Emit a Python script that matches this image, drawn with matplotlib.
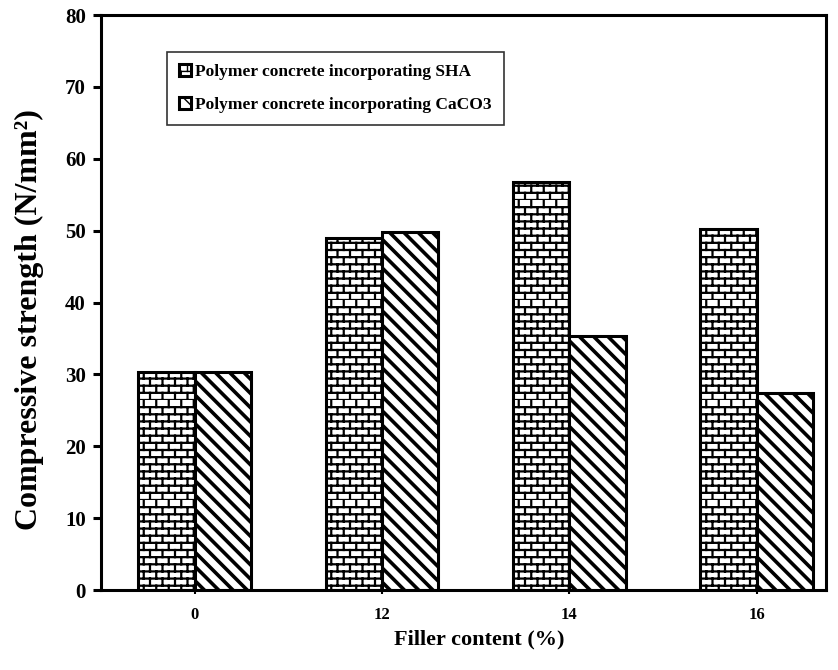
import warnings
import numpy as np
import matplotlib
matplotlib.use("Agg")
import matplotlib.pyplot as plt
import matplotlib.hatch as mhatch
from matplotlib.path import Path

warnings.filterwarnings("ignore")

# ---------------- data ----------------
categories = ["0", "12", "14", "16"]
sha_values = [30.4, 49.0, 56.7, 50.2]
caco3_values = [30.4, 49.8, 35.3, 27.4]
series_labels = ["Polymer concrete incorporating SHA",
                 "Polymer concrete incorporating CaCO3"]
y_ticks = [0, 10, 20, 30, 40, 50, 60, 70, 80]


# ------------- custom hatches -------------
class BrickHatch(mhatch.HatchPatternBase):
    """Brick texture, triggered by the 'b' hatch character."""
    def __init__(self, hatch, density):
        n = hatch.count('b')
        self.rows = 14 * n
        self.cols = 8 * n
        self.num_vertices = (2 * self.rows + 2 * self.rows * self.cols) if n else 0

    def set_vertices_and_codes(self, vertices, codes):
        R, C = self.rows, self.cols
        i = 0
        for r in range(R):
            y = r / R
            vertices[i] = (0.0, y); codes[i] = Path.MOVETO; i += 1
            vertices[i] = (1.0, y); codes[i] = Path.LINETO; i += 1
        for r in range(R):
            off = 0.5 if r % 2 else 0.0
            for k in range(C):
                xx = (k + off) / C
                vertices[i] = (xx, r / R); codes[i] = Path.MOVETO; i += 1
                vertices[i] = (xx, (r + 1) / R); codes[i] = Path.LINETO; i += 1


class DiagHatch(mhatch.HatchPatternBase):
    """Back-slash diagonal lines, triggered by 'd'."""
    def __init__(self, hatch, density):
        n = hatch.count('d')
        self.num_lines = 14 * n
        self.num_vertices = (self.num_lines + 1) * 2 if n else 0

    def set_vertices_and_codes(self, vertices, codes):
        steps = np.linspace(-0.5, 0.5, self.num_lines + 1)
        vertices[0::2, 0] = 0.0 + steps
        vertices[0::2, 1] = 1.0 + steps
        vertices[1::2, 0] = 1.0 + steps
        vertices[1::2, 1] = 0.0 + steps
        codes[0::2] = Path.MOVETO
        codes[1::2] = Path.LINETO


mhatch._hatch_types.append(BrickHatch)
mhatch._hatch_types.append(DiagHatch)

# ---------------- figure ----------------
plt.rcParams['font.family'] = ['Liberation Serif', 'DejaVu Serif']
plt.rcParams['font.weight'] = 'bold'

fig = plt.figure(figsize=(8.38, 6.70), dpi=100)
ax = fig.add_axes([0.1205, 0.1194, 0.8652, 0.8582])

x = np.arange(len(categories))
w = 0.3

with plt.rc_context({'hatch.linewidth': 1.6}):
    b1 = ax.bar(x - w / 2, sha_values, w, facecolor='white', edgecolor='black',
                linewidth=2.2, hatch='b', label=series_labels[0])
with plt.rc_context({'hatch.linewidth': 2.6}):
    b2 = ax.bar(x + w / 2, caco3_values, w, facecolor='white', edgecolor='black',
                linewidth=2.2, hatch='d', label=series_labels[1])

ax.set_xlim(-0.5, 3.37)
ax.set_ylim(0, 80)
ax.set_yticks(y_ticks)
ax.set_xticks(x)
ax.set_xticklabels(categories)

for s in ax.spines.values():
    s.set_linewidth(2.2)

ax.tick_params(axis='y', direction='out', length=6, width=2.2, labelsize=15, pad=5)
ax.tick_params(axis='x', direction='out', length=3, width=1.5, labelsize=12, pad=9)
for lab in ax.get_xticklabels() + ax.get_yticklabels():
    lab.set_fontweight('bold')

ax.set_xlabel("Filler content (%)", fontsize=16, fontweight='bold')
ax.xaxis.set_label_coords(0.522, -0.068)
ax.set_ylabel("Compressive strength (N/mm²)", fontsize=23, fontweight='bold')
ax.yaxis.set_label_coords(-0.078, 0.47)

leg = ax.legend(loc='upper left', bbox_to_anchor=(0.091, 0.936), borderaxespad=0,
                frameon=True, fancybox=False, edgecolor='black',
                prop={'family': 'Liberation Serif', 'weight': 'bold', 'size': 12.5},
                handlelength=0.7, handleheight=0.7, handletextpad=0.2,
                labelspacing=0.95, borderpad=0.7)
leg.get_frame().set_linewidth(1.2)

fig.savefig("out.png", dpi=100)
